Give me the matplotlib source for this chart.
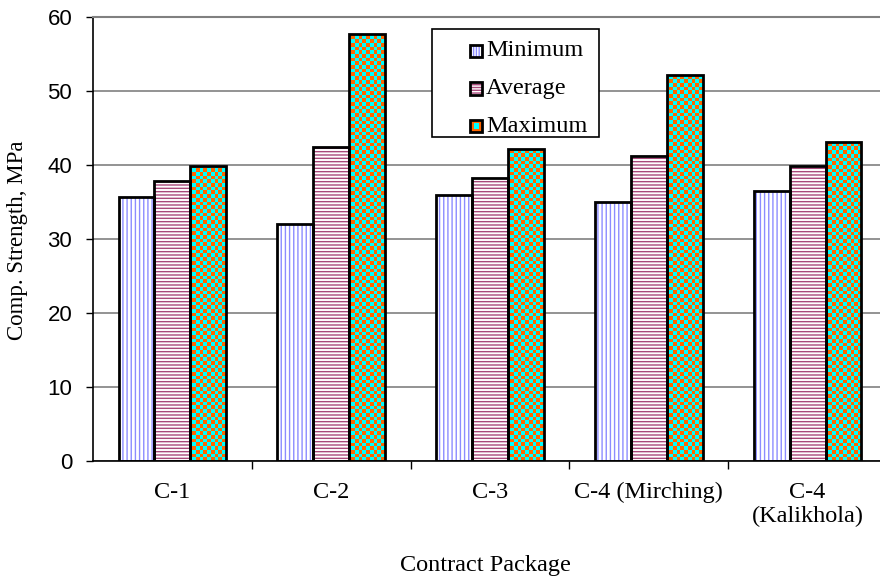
import numpy as np
import matplotlib
matplotlib.use("Agg")
import matplotlib.pyplot as plt
from matplotlib.patches import Rectangle
from matplotlib.colors import ListedColormap

# Compressive strength per contract package (MPa)
packages = ["C-1", "C-2", "C-3", "C-4 (Mirching)", "C-4\n(Kalikhola)"]
minimum = [35.7, 32.0, 36.0, 35.0, 36.5]
average = [37.8, 42.4, 38.2, 41.2, 39.9]
maximum = [39.8, 57.7, 42.2, 52.2, 43.1]
series_names = ["Minimum", "Average", "Maximum"]
y_ticks = [0, 10, 20, 30, 40, 50, 60]

SERIF = "Liberation Serif"
SANS = "Liberation Sans"
plt.rcParams["hatch.linewidth"] = 1.0

W, H = 880, 576
fig = plt.figure(figsize=(W / 100, H / 100), dpi=100)
ax_left, ax_right, ax_top, ax_bottom = 93, 887, 17, 461
ax = fig.add_axes([ax_left / W, (H - ax_bottom) / H,
                   (ax_right - ax_left) / W, (ax_bottom - ax_top) / H])

x = np.arange(len(packages))
w = 0.226
XLIM = (-0.5, len(packages) - 0.5)
YLIM = (0, 60)

# checkerboard texture (orange / cyan) for the maximum series
cell = 3.7
ncols = int(round((ax_right - ax_left) / cell))
nrows = int(round((ax_bottom - ax_top) / cell))
checker = np.add.outer(np.arange(nrows), np.arange(ncols)) % 2
checker_cmap = ListedColormap(["#ff6600", "#00ffff"])

# Minimum: vertical blue lines
ax.bar(x - w, minimum, width=w, color="white", edgecolor="#8c8cff",
       hatch="||||", linewidth=0, zorder=2)
ax.bar(x - w, minimum, width=w, fill=False, edgecolor="black",
       linewidth=2, zorder=4)

# Average: horizontal maroon lines
ax.bar(x, average, width=w, color="white", edgecolor="#a8487a",
       hatch="-----", linewidth=0, zorder=2)
ax.bar(x, average, width=w, fill=False, edgecolor="black",
       linewidth=2, zorder=4)

# Maximum: checkerboard
max_bars = ax.bar(x + w, maximum, width=w, fill=False, edgecolor="black",
                  linewidth=2, zorder=4)
for bar in max_bars:
    im = ax.imshow(checker, cmap=checker_cmap, origin="lower",
                   extent=(XLIM[0], XLIM[1], YLIM[0], YLIM[1]),
                   interpolation="nearest", aspect="auto", zorder=2)
    im.set_clip_path(bar)

ax.set_xlim(*XLIM)
ax.set_ylim(*YLIM)

# grid and spines
ax.set_axisbelow(True)
ax.yaxis.grid(True, color="#808080", linewidth=1.2)
ax.spines["right"].set_visible(False)
ax.spines["top"].set_color("#808080")
ax.spines["top"].set_linewidth(1.5)
ax.spines["left"].set_linewidth(1.2)
ax.spines["bottom"].set_linewidth(1.2)

ax.set_yticks(y_ticks)
ax.set_yticklabels([str(v) for v in y_ticks], fontname=SANS, fontsize=16)
ax.tick_params(axis="y", direction="out", length=5, width=1, pad=10)

ax.set_xticks(x)
ax.set_xticklabels(packages, fontname=SERIF, fontsize=17.5, linespacing=1.2)
ax.tick_params(axis="x", which="major", length=0, pad=15)
ax.set_xticks(x[:-1] + 0.5, minor=True)
ax.tick_params(axis="x", which="minor", direction="out", length=6, width=1)

fig.text(18 / W, 1 - 240 / H, "Comp. Strength, MPa", rotation=90,
         ha="center", va="center", fontname=SERIF, fontsize=16.5)
fig.text(485 / W, 1 - 565 / H, "Contract Package", ha="center",
         va="center", fontname=SERIF, fontsize=17.5)


# legend, drawn in pixel coordinates of the figure
def px(xp, yp):
    return xp / W, 1 - yp / H


lx0, ly0, lx1, ly1 = 432, 29, 599, 137
fig.patches.append(Rectangle(px(lx0, ly1), (lx1 - lx0) / W, (ly1 - ly0) / H,
                             transform=fig.transFigure, facecolor="white",
                             edgecolor="black", linewidth=1.2, zorder=5))
row_y = [51, 88.5, 126]
hs = 12
hatch_styles = [("#8c8cff", "||||||"), ("#a8487a", "------"), (None, None)]
for name, yc, (hc, hp) in zip(series_names, row_y, hatch_styles):
    corner = px(470, yc + hs / 2)
    size = (hs / W, hs / H)
    if hp is not None:
        fig.patches.append(Rectangle(corner, *size, transform=fig.transFigure,
                                     facecolor="white", edgecolor=hc, hatch=hp,
                                     linewidth=0, zorder=6))
    else:
        fig.patches.append(Rectangle(corner, *size, transform=fig.transFigure,
                                     facecolor="#ff6600", linewidth=0, zorder=6))
        inner = px(473.5, yc + 2.5)
        fig.patches.append(Rectangle(inner, 5 / W, 5 / H,
                                     transform=fig.transFigure,
                                     facecolor="#00ffff", linewidth=0, zorder=6.5))
    fig.patches.append(Rectangle(corner, *size, transform=fig.transFigure,
                                 fill=False, edgecolor="black", linewidth=2,
                                 zorder=7))
    tx, ty = px(486, yc)
    fig.text(tx, ty, name, ha="left", va="center", fontname=SERIF,
             fontsize=17.5, zorder=8)

fig.savefig("out.png", dpi=100)
